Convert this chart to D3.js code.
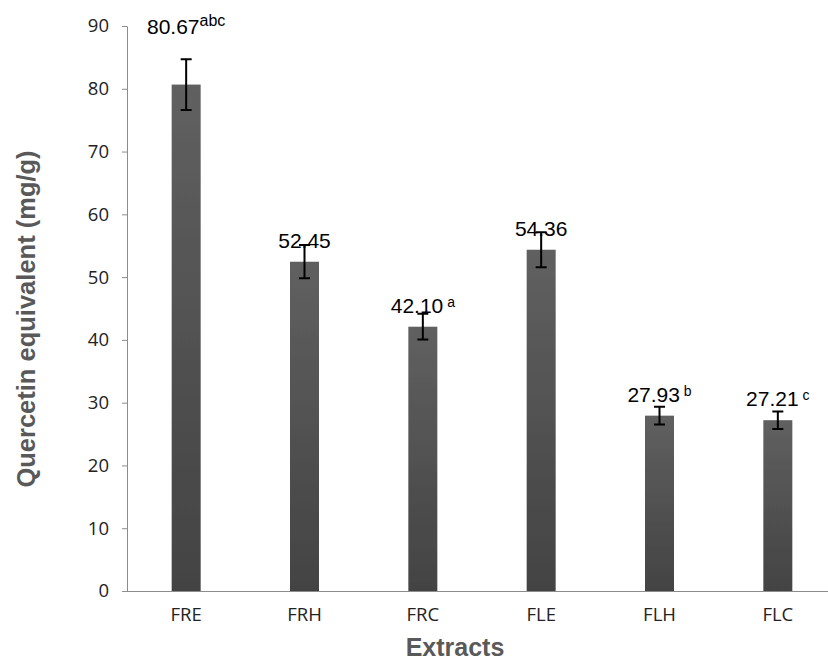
<!DOCTYPE html>
<html>
<head>
<meta charset="utf-8">
<script src="https://cdn.jsdelivr.net/npm/d3@7"></script>
<style>
  html, body { margin: 0; padding: 0; background: #fff; }
  svg { display: block; }
</style>
</head>
<body>
<svg id="chart" width="828" height="662"></svg>
<script>
// Total flavonoid content per extract (quercetin equivalents)
const extracts = ["FRE", "FRH", "FRC", "FLE", "FLH", "FLC"];
const values = [80.67, 52.45, 42.10, 54.36, 27.93, 27.21];
const errors = [4.05, 2.65, 2.05, 2.8, 1.4, 1.4];
const superscripts = ["abc", "", "a", "", "b", "c"];
const yTicks = [0, 10, 20, 30, 40, 50, 60, 70, 80, 90];

const svg = d3.select("#chart");
const margin = { left: 127, top: 26, bottom: 71 };
const plotRight = 837;
const H = 662;

const x = d3.scaleBand().domain(extracts).range([margin.left, plotRight]).padding(0);
const y = d3.scaleLinear().domain([0, 90]).range([H - margin.bottom, margin.top]);

// bar gradient
const defs = svg.append("defs");
const grad = defs.append("linearGradient").attr("id", "barGrad")
  .attr("x1", 0).attr("y1", 0).attr("x2", 0).attr("y2", 1);
grad.append("stop").attr("offset", "0%").attr("stop-color", "#606060");
grad.append("stop").attr("offset", "100%").attr("stop-color", "#434343");
const blur = defs.append("filter").attr("id", "soft").attr("x", "-20%").attr("width", "140%");
blur.append("feGaussianBlur").attr("stdDeviation", 0.6);

const tickFont = "'Open Sans', sans-serif";

// y axis
const yAxis = svg.append("g").attr("transform", `translate(${margin.left},0)`)
  .call(d3.axisLeft(y).tickValues(yTicks).tickSize(5).tickPadding(13).tickSizeOuter(0));
yAxis.select(".domain").attr("stroke", "#8c8c8c");
yAxis.selectAll(".tick line").attr("stroke", "#8c8c8c");
yAxis.selectAll(".tick text")
  .attr("font-family", tickFont)
  .attr("font-size", 18.5).attr("fill", "#222");

// x axis
const xAxis = svg.append("g").attr("transform", `translate(0,${y(0)})`)
  .call(d3.axisBottom(x).tickSize(0).tickPadding(17).tickSizeOuter(0));
xAxis.select(".domain").attr("stroke", "#8c8c8c").attr("d", `M${margin.left - 5},0.5H${plotRight}`);
xAxis.selectAll(".tick text")
  .attr("font-family", tickFont)
  .attr("font-size", 18.5).attr("fill", "#222");

// bars
const barW = x.bandwidth() * 0.245;
const cx = d => x(d) + x.bandwidth() / 2;
svg.append("g").selectAll("rect").data(extracts).join("rect")
  .attr("x", d => cx(d) - barW / 2)
  .attr("y", (d, i) => y(values[i]))
  .attr("width", barW)
  .attr("height", (d, i) => y(0) - y(values[i]))
  .attr("fill", "url(#barGrad)")
  .attr("filter", "url(#soft)");

// error bars
const cap = 5.5;
const eb = svg.append("g").attr("stroke", "#000").attr("stroke-width", 2).attr("fill", "none");
extracts.forEach((d, i) => {
  const top = y(values[i] + errors[i]);
  const bot = y(values[i] - errors[i]);
  const c = cx(d);
  eb.append("path").attr("d", `M${c},${top}V${bot}M${c - cap},${top}H${c + cap}M${c - cap},${bot}H${c + cap}`);
});

// value labels with significance letters
const labelLift = { FRE: 37 };
const lab = svg.append("g").attr("font-family", "Arial, 'Liberation Sans', sans-serif").attr("fill", "#000");
extracts.forEach((d, i) => {
  const t = lab.append("text")
    .attr("x", cx(d))
    .attr("y", y(values[i]) - 14 - (labelLift[d] || 0))
    .attr("text-anchor", "middle");
  t.append("tspan").attr("font-size", 21).text(values[i].toFixed(2));
  if (superscripts[i]) {
    const sep = i === 0 ? "" : "\u00a0";
    t.append("tspan").attr("font-size", i === 0 ? 16 : 14).attr("dy", i === 0 ? -8 : -6).text(sep + superscripts[i]);
  }
});

// axis titles
svg.append("text")
  .attr("x", 455).attr("y", 656)
  .attr("text-anchor", "middle")
  .attr("font-family", "Arial, 'Liberation Sans', sans-serif")
  .attr("font-weight", "bold").attr("font-size", 25).attr("fill", "#595959")
  .text("Extracts");

svg.append("text")
  .attr("transform", `translate(35,${319}) rotate(-90)`)
  .attr("text-anchor", "middle")
  .attr("font-family", "Arial, 'Liberation Sans', sans-serif")
  .attr("font-weight", "bold").attr("font-size", 25.5).attr("fill", "#595959")
  .text("Quercetin equivalent (mg/g)");
</script>
</body>
</html>
